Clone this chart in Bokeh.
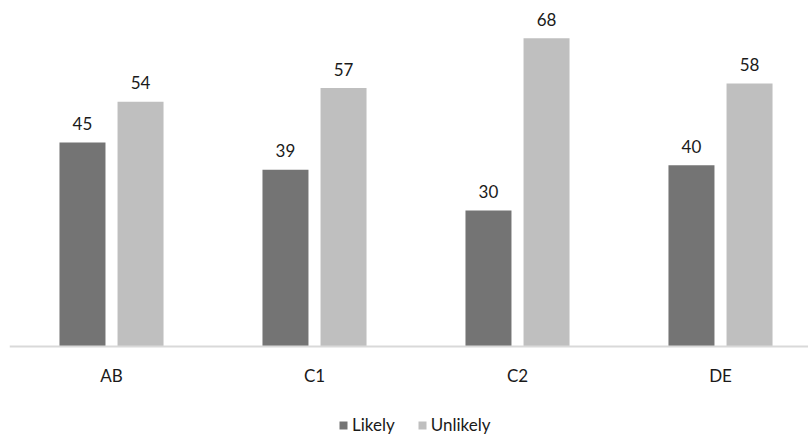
import numpy as np
from bokeh.plotting import figure
from bokeh.models import ColumnDataSource, Range1d, FixedTicker, Legend, LegendItem
from bokeh.transform import dodge
from bokeh.core.properties import value
from bokeh.embed import file_html
from bokeh.resources import INLINE

categories = ["AB", "C1", "C2", "DE"]
likely = [45, 39, 30, 40]
unlikely = [54, 57, 68, 58]
series_names = ["Likely", "Unlikely"]
colors = ["#747474", "#bfbfbf"]

pos = list(range(len(categories)))
src = ColumnDataSource(dict(
    x=pos,
    likely=likely,
    unlikely=unlikely,
    ll=[str(v) for v in likely],
    ul=[str(v) for v in unlikely],
))

FONT = "Lato"
OFF = 0.143
BW = 0.2266

p = figure(
    frame_width=799, frame_height=428,
    x_range=Range1d(-0.5025, 3.4335), y_range=Range1d(-19.85, 74.56),
    output_backend="svg", toolbar_location=None,
    y_axis_location=None,
    min_border_left=9, min_border_right=0, min_border_top=8, min_border_bottom=0,
)
p.outline_line_color = None
p.xgrid.visible = False
p.ygrid.visible = False

r1 = p.vbar(x=dodge("x", -OFF), top="likely", width=BW, source=src,
            fill_color=colors[0], line_color=None)
r2 = p.vbar(x=dodge("x", OFF), top="unlikely", width=BW, source=src,
            fill_color=colors[1], line_color=None)

for col, lab, off in (("likely", "ll", -OFF), ("unlikely", "ul", OFF)):
    p.text(x=dodge("x", off), y=col, text=lab, source=src,
           text_font=value(FONT), text_font_size="17px", text_color="#1a1a1a",
           text_align="center", text_baseline="alphabetic", y_offset=-19)

ax = p.xaxis[0]
ax.fixed_location = 0
ax.ticker = FixedTicker(ticks=pos)
ax.major_label_overrides = {i: c for i, c in zip(pos, categories)}
ax.major_tick_out = 0
ax.major_tick_in = 0
ax.minor_tick_out = 0
ax.minor_tick_in = 0
ax.axis_line_color = "#d9d9d9"
ax.axis_line_width = 2
ax.major_label_text_font = FONT
ax.major_label_text_font_size = "17px"
ax.major_label_text_color = "#1a1a1a"
ax.major_label_standoff = 18

legend = Legend(
    items=[LegendItem(label=series_names[0], renderers=[r1]),
           LegendItem(label=series_names[1], renderers=[r2])],
    orientation="horizontal", location=(329, 1),
    glyph_width=10, glyph_height=10, label_height=14, label_standoff=4, spacing=22,
    padding=0, margin=0,
    label_text_font=FONT, label_text_font_size="17px", label_text_color="#1a1a1a",
    background_fill_alpha=0, border_line_color=None,
)
p.add_layout(legend)

open("out.html", "w").write(file_html(p, INLINE))
